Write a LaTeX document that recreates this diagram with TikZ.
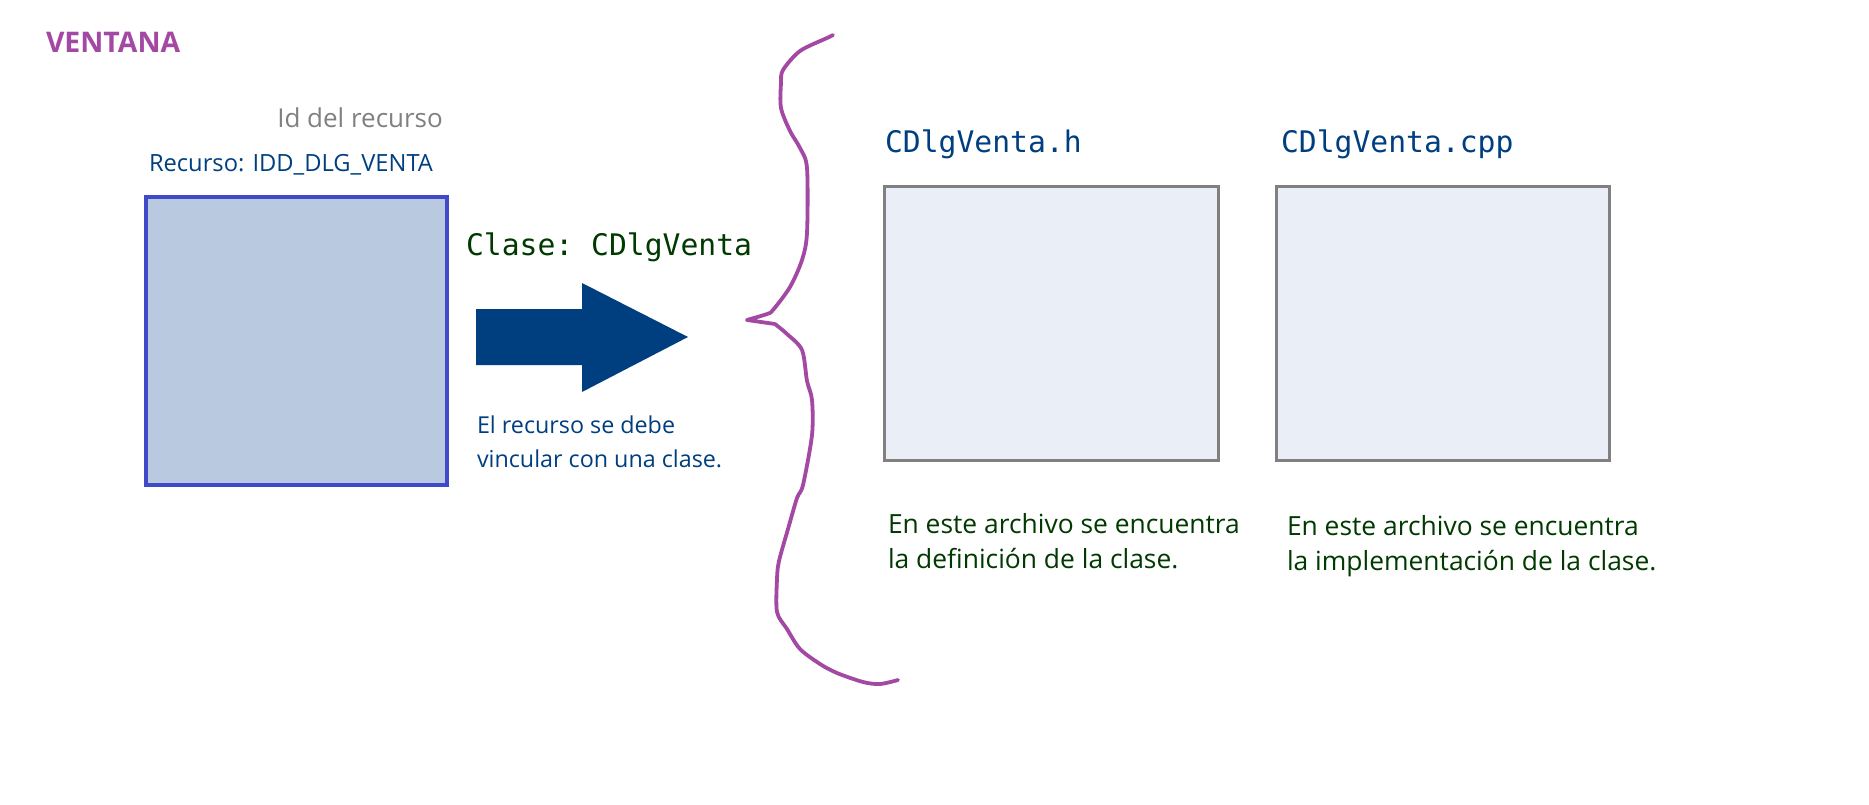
\documentclass[tikz,border=0pt]{standalone}
\usepackage{fontspec}
\setmainfont{Open Sans}
\setmonofont{DejaVu Sans Mono}
\definecolor{purp}{HTML}{A349A4}
\definecolor{navy}{HTML}{003F7F}
\definecolor{dgreen}{HTML}{003A00}
\definecolor{sqborder}{HTML}{4049C8}
\definecolor{sqfill}{HTML}{B8C9E0}
\definecolor{fileborder}{HTML}{808080}
\definecolor{filefill}{HTML}{EAEFF7}
\tikzset{
  txt/.style={anchor=base west, inner sep=0pt, outer sep=0pt},
  title/.style={txt, text=purp, font=\fontsize{28.4}{34}\selectfont\bfseries},
  graytxt/.style={anchor=base east, inner sep=0pt, text=fileborder, font=\fontsize{26}{32}\selectfont},
  navytxt/.style={txt, text=navy, font=\fontsize{23.7}{34}\selectfont},
  desctxt/.style={txt, text=navy, font=\fontsize{23.3}{34}\selectfont},
  greentxt/.style={txt, text=dgreen, font=\fontsize{26.4}{35}\selectfont},
  codetxt/.style={txt, font=\fontsize{29.7}{34}\ttfamily},
  filebox/.style={draw=fileborder, line width=3pt, fill=filefill},
}
\begin{document}
\begin{tikzpicture}[x=1pt,y=-1pt]
\useasboundingbox[fill=white] (0,0) rectangle (1869,805);
% title
\node[title] (ventana) at (46,53) {VENTANA};
% resource
\node[graytxt] (idrec) at (443,128) {Id del recurso};
\node[navytxt] (recurso) at (149,172) {Recurso: IDD\_DLG\_VENTA};
\draw[draw=sqborder, line width=4.5pt, fill=sqfill] (146,197) rectangle (447,485);
\node[inner sep=0pt, minimum size=0pt] (sq) at (296,341) {};
% class label
\node[codetxt, text=dgreen] (clase) at (466,255) {Clase: CDlgVenta};
% block arrow
\fill[navy] (476,309) -- (582,309) -- (582,283) -- (688,337) -- (582,392) -- (582,365) -- (476,365) -- cycle;
\node[desctxt] (vinc1) at (477,433) {El recurso se debe};
\node[desctxt] (vinc2) at (477,467) {vincular con una clase.};
% brace
\draw[purp, line width=3.8pt, line cap=round, line join=round]
  plot[smooth, tension=0.5] coordinates {
  (833,35) (827,38) (800,51) (783,70) (781,83) (781,108) (790,131) (800,148)
  (807,168) (807,233) (802,260) (790,287) (773,310) (767,314) (747,320)}
  -- (775,324)
  plot[smooth, tension=0.5] coordinates {
  (775,324) (787,334) (802,350) (807,381) (812,400) (812,435) (803,485)
  (797,498) (788,529) (779,561) (777,579) (777,612) (787,629) (800,649)
  (820,664) (837,673) (863,682) (880,684) (898,680)};
% files
\node[codetxt, text=navy] (hname) at (885,153) {CDlgVenta.h};
\draw[filebox] (884,187) rectangle (1218,460);
\node[codetxt, text=navy] (cppname) at (1281,153) {CDlgVenta.cpp};
\draw[filebox] (1276,187) rectangle (1609,460);
\node[greentxt] (hdesc1) at (888,533) {En este archivo se encuentra};
\node[greentxt] (hdesc2) at (888,568) {la definición de la clase.};
\node[greentxt] (cdesc1) at (1287,535) {En este archivo se encuentra};
\node[greentxt] (cdesc2) at (1287,570) {la implementación de la clase.};
\end{tikzpicture}
\end{document}
